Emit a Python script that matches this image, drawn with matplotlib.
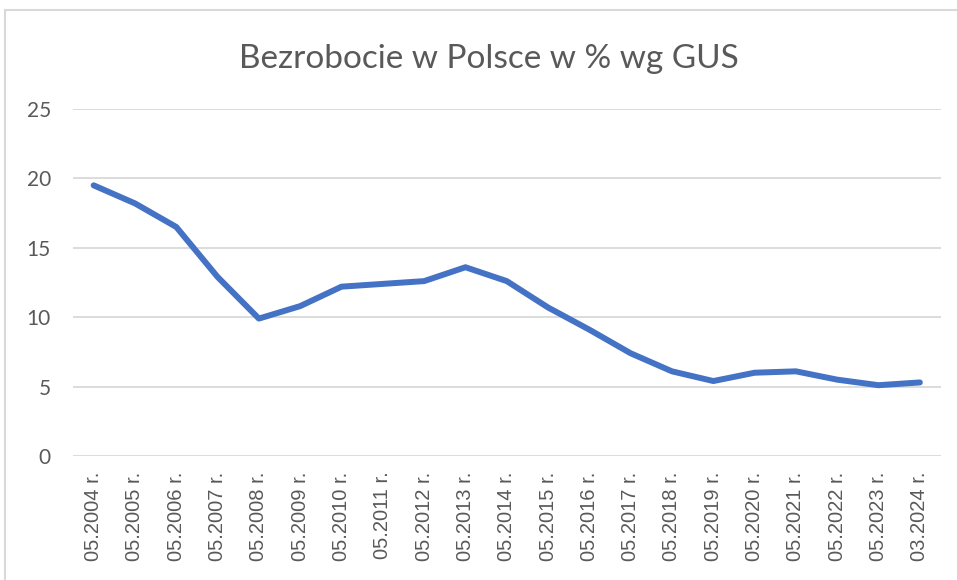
import matplotlib.pyplot as plt
from matplotlib.patches import Rectangle

# dane (stopa bezrobocia, %)
years = ['05.2004 r.', '05.2005 r.', '05.2006 r.', '05.2007 r.', '05.2008 r.',
         '05.2009 r.', '05.2010 r.', '05.2011 r.', '05.2012 r.', '05.2013 r.',
         '05.2014 r.', '05.2015 r.', '05.2016 r.', '05.2017 r.', '05.2018 r.',
         '05.2019 r.', '05.2020 r.', '05.2021 r.', '05.2022 r.', '05.2023 r.',
         '03.2024 r.']
unemployment = [19.5, 18.2, 16.5, 12.9, 9.9, 10.8, 12.2, 12.4, 12.6, 13.6,
                12.6, 10.7, 9.1, 7.4, 6.1, 5.4, 6.0, 6.1, 5.5, 5.1, 5.3]
yticks = [0, 5, 10, 15, 20, 25]

W, H = 957, 580
plt.rcParams['font.family'] = ['Lato', 'DejaVu Sans']
txt = '#595959'

fig = plt.figure(figsize=(W / 100, H / 100), dpi=100)
fig.patches.append(Rectangle((5 / W, -0.1), 1.2, 1.1 - 10 / H, transform=fig.transFigure,
                             fill=False, edgecolor='#d9d9d9', linewidth=1.5))

ax = fig.add_axes([73 / W, 1 - 456 / H, (940.5 - 73) / W, (456 - 109) / H])
x = list(range(len(years)))
ax.plot(x, unemployment, color='#4472C4', linewidth=4.3, solid_capstyle='round',
        solid_joinstyle='round', zorder=3)

ax.set_xlim(-0.5, len(years) - 0.5)
ax.set_ylim(0, 25)
ax.set_yticks(yticks)
ax.set_yticklabels([str(v) for v in yticks], fontsize=15, color=txt)
ax.set_xticks(x)
ax.set_xticklabels(years, rotation=90, fontsize=14.5, color=txt,
                   family=['Liberation Sans', 'DejaVu Sans'])
ax.tick_params(axis='y', length=0, pad=16)
ax.tick_params(axis='x', length=0, pad=11)
ax.grid(axis='y', color='#d9d9d9', linewidth=1.3)
ax.set_axisbelow(True)
for s in ax.spines.values():
    s.set_visible(False)

fig.text(489 / W, 1 - 68 / H, 'Bezrobocie w Polsce w % wg GUS', ha='center', va='baseline',
         fontsize=24, color=txt)

fig.savefig('out.png', dpi=100)
